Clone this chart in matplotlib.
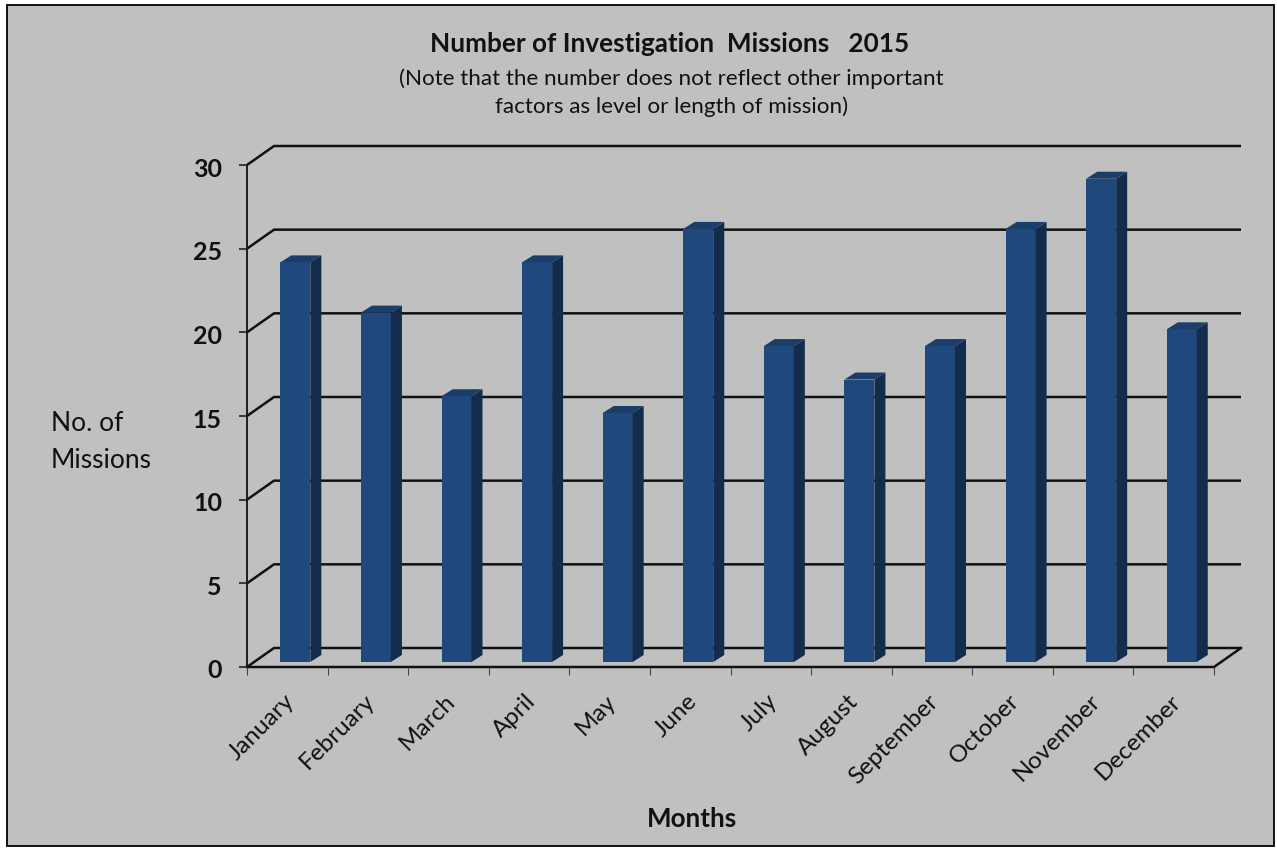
import matplotlib.pyplot as plt
from matplotlib.patches import Polygon, Rectangle
from matplotlib.transforms import ScaledTranslation

plt.rcParams['font.family'] = ['Lato', 'DejaVu Sans']

months = ["January", "February", "March", "April", "May", "June", "July",
          "August", "September", "October", "November", "December"]
missions = [24, 21, 16, 24, 15, 26, 19, 17, 19, 26, 29, 20]
y_ticks = [0, 5, 10, 15, 20, 25, 30]

W, H = 1277, 848
BG = "#c0c0c0"
FRONT = "#1f497d"
SIDE = "#132c4b"
TOP = "#1a3d69"

fig = plt.figure(figsize=(W / 100, H / 100), dpi=100, facecolor="white")
# outer figure box, kept behind the axes
fig.add_artist(Rectangle((7 / W, 1 - 846 / H), (1274 - 7) / W, (846 - 5) / H,
                         transform=fig.transFigure, facecolor=BG,
                         edgecolor="black", lw=1.3, zorder=-1))

# axes spans the front plane of the 3D box, 0 at y=667 and 30 at y=165 px
ax = fig.add_axes([247 / W, 1 - 667 / H, (1214 - 247) / W, (667 - 165) / H])
ax.patch.set_alpha(0)
ax.set_xlim(0, 12)
ax.set_ylim(0, 30)

# depth of the chart box in data units
dx = 27 / (1214 - 247) * 12
dy = 19 / (667 - 165) * 30

for v in y_ticks:
    ax.plot([0, dx, 12 + dx], [v, v + dy, v + dy], color="#111111", lw=1.8,
            clip_on=False, solid_capstyle="butt", zorder=1)
ax.plot([0, 0], [0, 30], color="#111111", lw=1.3, clip_on=False, zorder=1)
ax.plot([0, 12, 12 + dx], [0, 0, dy], color="#111111", lw=1.8, clip_on=False, zorder=1)

# bars with extruded top and side
bar_w = 0.372
bar_dx = 11 / (1214 - 247) * 12
bar_dy = 7 / (667 - 165) * 30
base = 0.3
lift = 0.18  # bar tops sit a touch above the gridline level
for i, v in enumerate(missions):
    x0 = i + 0.5 - bar_w / 2 + 0.1
    x1 = x0 + bar_w
    ax.add_patch(Rectangle((x0, base), bar_w, v - base + lift, facecolor=FRONT,
                           edgecolor="none", zorder=3))
    ax.add_patch(Polygon([(x1, base), (x1 + bar_dx, base + bar_dy),
                          (x1 + bar_dx, v + lift + bar_dy), (x1, v + lift)],
                         facecolor=SIDE, edgecolor="none", zorder=3, clip_on=False))
    ax.add_patch(Polygon([(x0, v + lift), (x1, v + lift),
                          (x1 + bar_dx, v + lift + bar_dy), (x0 + bar_dx, v + lift + bar_dy)],
                         facecolor=TOP, edgecolor="none", zorder=3, clip_on=False))

for s in ["top", "right", "left", "bottom"]:
    ax.spines[s].set_visible(False)

ax.set_yticks(y_ticks)
ax.tick_params(axis="y", length=6, width=1.2, color="#222222", pad=12, labelsize=18)
ax.set_xticks(range(13))
ax.set_xticklabels([])
ax.tick_params(axis="x", length=6, width=0.8, color="#444444", direction="out")
# y labels sit about 2 px under their ticks in the original
shift_down = ScaledTranslation(0, -2 / 100, fig.dpi_scale_trans)
for lab in ax.get_yticklabels():
    lab.set_fontweight("bold")
    lab.set_color("#111111")
    lab.set_transform(lab.get_transform() + shift_down)

for i, m in enumerate(months):
    ax.annotate(m, (i + 0.5, 0), xytext=(-3, -17), textcoords="offset points",
                rotation=45, ha="right", va="top", rotation_mode="anchor",
                fontsize=17.5, color="#111111")

def fig_text(x, y, s, **kw):
    fig.text(x / W, 1 - y / H, s, ha="center", va="center", color="#111111", **kw)

fig_text(670, 44, "Number of Investigation  Missions   2015", fontsize=18.8, fontweight="bold")
fig_text(671, 79, "(Note that the number does not reflect other important", fontsize=16.1)
fig_text(672, 107, "factors as level or length of mission)", fontsize=16.1)
fig_text(87, 423, "No. of", fontsize=19)
fig_text(101, 460, "Missions", fontsize=19)
fig_text(692, 819, "Months", fontsize=18.7, fontweight="bold")

fig.savefig("out.png", dpi=100, facecolor="white")
